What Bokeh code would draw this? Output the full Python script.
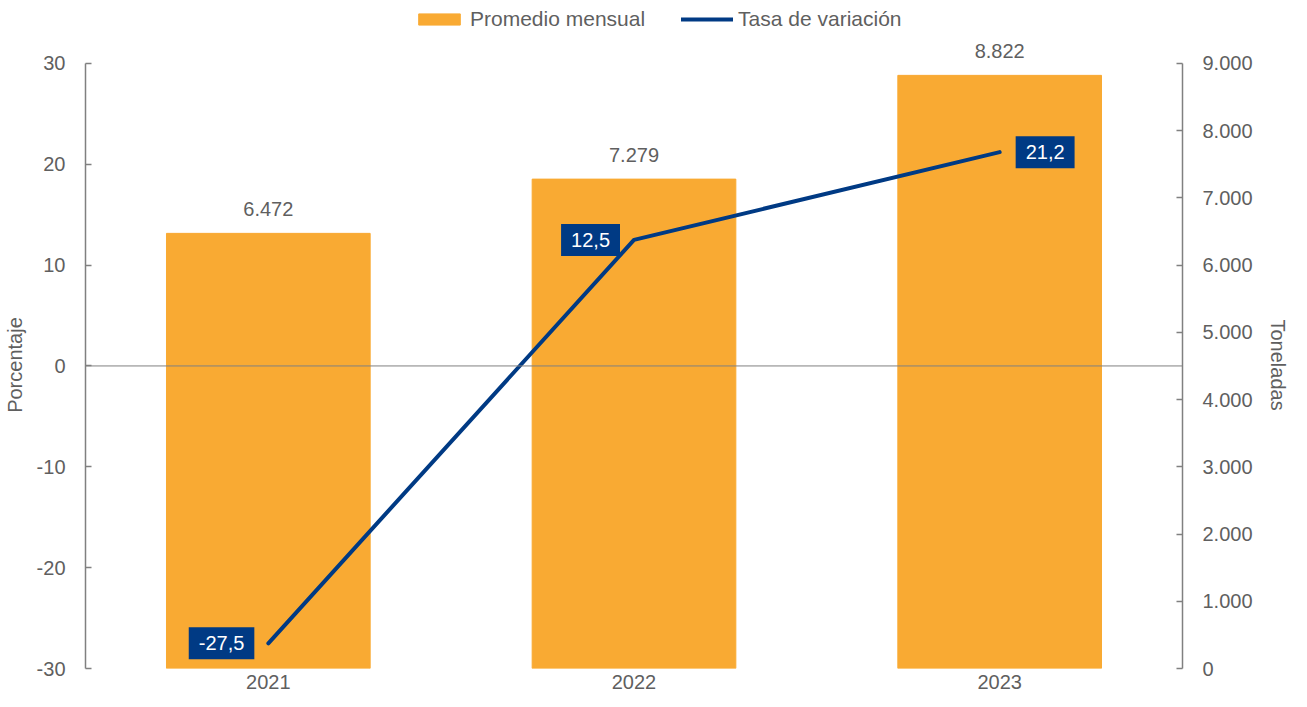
from bokeh.plotting import figure
from bokeh.models import (ColumnDataSource, Range1d, FactorRange, LinearAxis, Span,
                          LabelSet, Legend, LegendItem, FixedTicker)
from bokeh.embed import file_html
from bokeh.resources import INLINE
from bokeh.core.properties import value

years = ["2021", "2022", "2023"]
promedio_mensual = [6472, 7279, 8822]
tasa_variacion = [-27.5, 12.5, 21.2]
left_ticks = [-30, -20, -10, 0, 10, 20, 30]
right_ticks = [0, 1000, 2000, 3000, 4000, 5000, 6000, 7000, 8000, 9000]

FONT = "Liberation Sans"
GRAY = "#5f5f5f"
ORANGE = "#F9AA33"
NAVY = "#003A84"
FS = "20px"

W, H = 1291, 691
BL, BR, BB = 80, 104, 22
TOP_GAP = 63          # pixels between the frame top and the top tick (room for the legend)
PLOT_H = H - BB - TOP_GAP
NB = "\u00a0" * 11    # keeps the axis titles centred on the tick span rather than the frame

def miles(v):
    return f"{v:,}".replace(",", ".")

def dec(v):
    return f"{v:.1f}".replace(".", ",")

lmin, lmax = left_ticks[0], left_ticks[-1]
rmin, rmax = right_ticks[0], right_ticks[-1]
lext = lmax + TOP_GAP * (lmax - lmin) / PLOT_H
rext = rmax + TOP_GAP * (rmax - rmin) / PLOT_H

bar_src = ColumnDataSource(dict(x=years, top=promedio_mensual,
                                lab=[miles(v) for v in promedio_mensual]))
line_src = ColumnDataSource(dict(x=years, y=tasa_variacion,
                                 lab=[dec(v) for v in tasa_variacion]))

p = figure(width=W, height=H, x_range=FactorRange(*years, range_padding=0),
           y_range=Range1d(lmin, lext), output_backend="svg", toolbar_location=None,
           min_border_left=BL, min_border_right=BR, min_border_top=0, min_border_bottom=BB)
p.extra_y_ranges = {"right": Range1d(rmin, rext)}
p.outline_line_color = None
p.grid.visible = False
p.background_fill_color = "white"

bars = p.vbar(x="x", top="top", bottom=0, width=0.557, source=bar_src, color=ORANGE,
              y_range_name="right")
p.add_layout(Span(location=0, dimension="width", line_color="#808080", line_width=1))
line = p.line(x="x", y="y", source=line_src, line_color=NAVY, line_width=4, line_cap="round",
              line_join="round")

ya = p.yaxis[0]
ya.ticker = FixedTicker(ticks=left_ticks)
ya.major_label_overrides = {t: str(t) for t in left_ticks}
ya.axis_label = "Porcentaje" + NB
ya.bounds = (lmin, lmax)
ya.axis_label_standoff = 8

ra = LinearAxis(y_range_name="right", ticker=FixedTicker(ticks=right_ticks),
                major_label_overrides={t: miles(t) for t in right_ticks},
                axis_label=NB + "Toneladas", bounds=(rmin, rmax))
ra.axis_label_orientation = "vertical"
ra.axis_label_standoff = 11
p.add_layout(ra, "right")

for ax in [ya, ra]:
    ax.axis_line_color = "#808080"
    ax.axis_line_width = 1.5
    ax.major_tick_line_color = "#808080"
    ax.major_tick_line_width = 1.5
    ax.major_tick_in = 6
    ax.major_tick_out = 0
    ax.minor_tick_line_color = None
    ax.major_label_standoff = 20
    ax.major_label_text_font = FONT
    ax.major_label_text_font_size = FS
    ax.major_label_text_color = GRAY
    ax.axis_label_text_font = FONT
    ax.axis_label_text_font_size = FS
    ax.axis_label_text_font_style = "normal"
    ax.axis_label_text_color = GRAY

xa = p.xaxis[0]
xa.axis_line_color = None
xa.major_tick_line_color = None
xa.minor_tick_line_color = None
xa.major_label_standoff = 0
xa.major_label_text_font = FONT
xa.major_label_text_font_size = FS
xa.major_label_text_color = GRAY

bar_labels = LabelSet(x="x", y="top", text="lab", source=bar_src, y_range_name="right",
                      text_align="center", text_baseline="bottom", y_offset=17,
                      text_font=value(FONT), text_font_size=FS, text_color=GRAY)
p.add_layout(bar_labels)

left_src = ColumnDataSource(dict(x=years[:2], y=tasa_variacion[:2],
                                 lab=[dec(v) for v in tasa_variacion[:2]]))
right_src = ColumnDataSource(dict(x=years[2:], y=tasa_variacion[2:],
                                  lab=[dec(v) for v in tasa_variacion[2:]]))
common = dict(text="lab", text_baseline="middle", text_font=value(FONT),
              text_font_size=FS, text_color="white",
              background_fill_color=NAVY, padding=[10, 10, 9, 9])
p.text(x="x", y="y", source=left_src, text_align="right", x_offset=-14, **common)
p.text(x="x", y="y", source=right_src, text_align="left", x_offset=16, **common)

legend = Legend(items=[LegendItem(label="Promedio mensual", renderers=[bars]),
                       LegendItem(label="Tasa de variación", renderers=[line])],
                orientation="horizontal", location=(328, PLOT_H + TOP_GAP - 32),
                glyph_width=52, glyph_height=14, label_standoff=5, spacing=36,
                padding=0, margin=0, border_line_color=None, background_fill_alpha=0,
                label_text_font=FONT, label_text_font_size="21px", label_text_color=GRAY)
p.add_layout(legend, "center")

open("out.html", "w").write(file_html(p, INLINE))
